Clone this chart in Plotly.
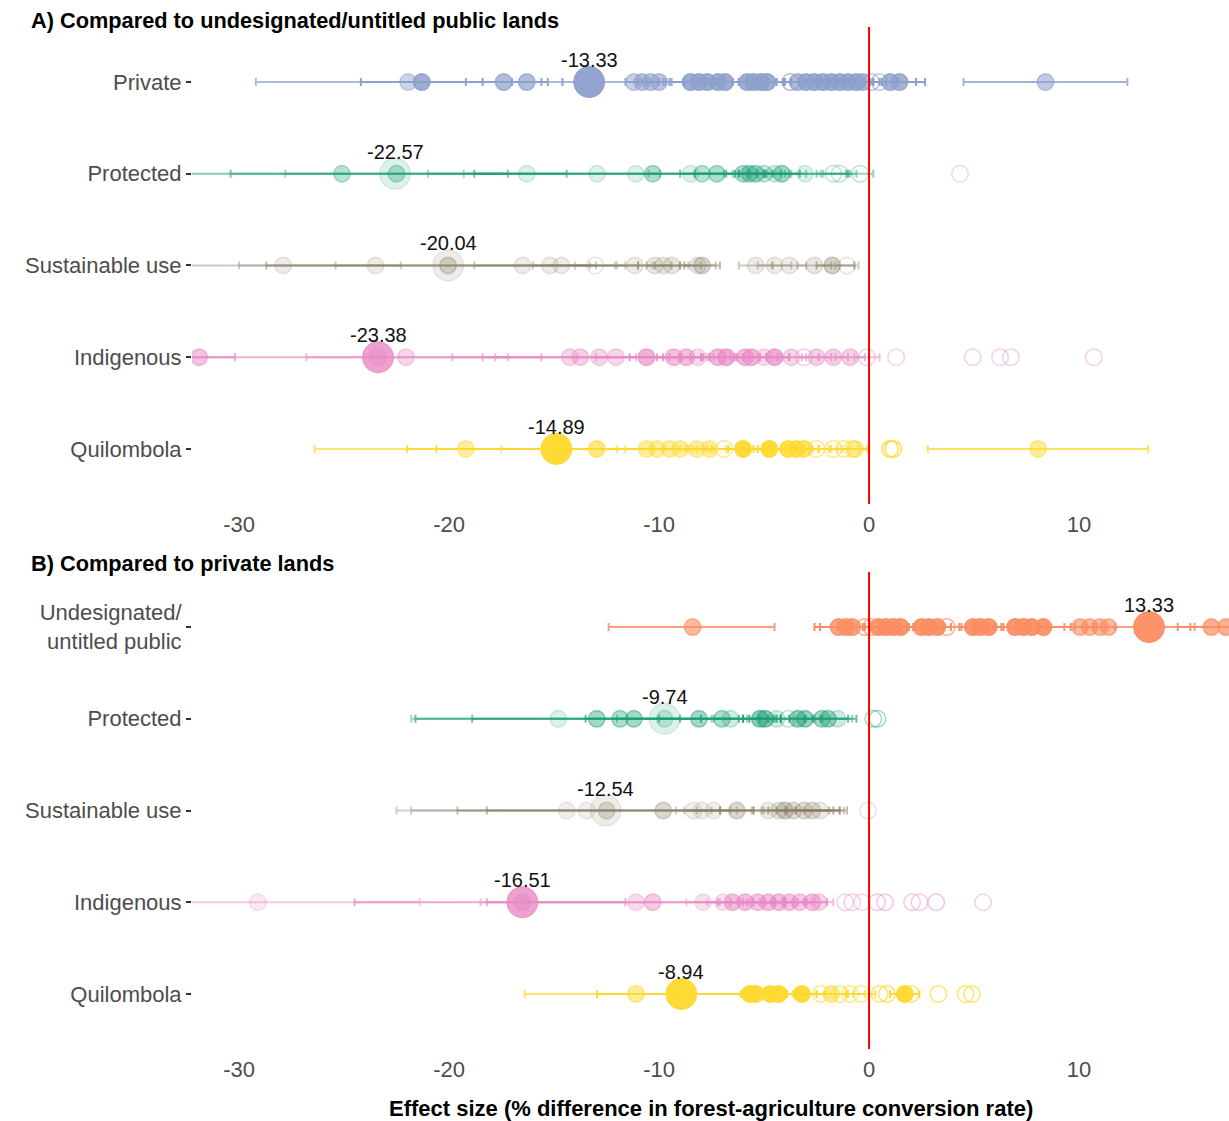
import plotly.graph_objects as go

# ---------------------------------------------------------------------------
# Study-level effect sizes: (estimate, ci_low, ci_high, weight, significant)
# weight drives the opacity of a study, significant=0 draws an open circle
# ---------------------------------------------------------------------------

# Panel A: compared to undesignated/untitled public lands
a_private = [
    (-21.95, -29.2, -14.6, 0.45, 1), (-21.3, -24.2, -18.4, 0.85, 1),
    (-17.4, -19.2, -15.6, 0.7, 1), (-16.3, -17.0, -15.3, 0.7, 1),
    (-11.2, -14.6, -9.7, 0.5, 1), (-10.8, -11.6, -10.0, 0.6, 1),
    (-10.4, -11.0, -9.8, 0.6, 1), (-10.0, -10.6, -9.4, 0.6, 1),
    (-8.5, -9.5, -7.6, 0.85, 1), (-8.1, -8.8, -7.3, 0.85, 1),
    (-7.7, -8.4, -7.0, 0.85, 1), (-7.2, -7.9, -6.5, 0.85, 1),
    (-6.85, -7.5, -6.2, 0.85, 1), (-5.8, -6.5, -5.1, 0.85, 1),
    (-5.5, -6.2, -4.8, 0.85, 1), (-5.15, -5.8, -4.4, 0.85, 1),
    (-4.85, -5.4, -4.0, 0.85, 1), (-3.75, -4.5, -2.9, 0.6, 0),
    (-3.4, -4.1, -2.7, 0.7, 1), (-3.0, -3.7, -2.3, 0.85, 1),
    (-2.6, -3.3, -1.9, 0.85, 1), (-2.2, -2.9, -1.5, 0.85, 1),
    (-1.8, -2.5, -1.1, 0.85, 1), (-1.4, -2.0, -0.6, 0.85, 1),
    (-1.0, -1.6, -0.2, 0.85, 1), (-0.6, -1.2, 0.2, 0.85, 1),
    (-0.3, -0.9, 0.5, 0.7, 1), (0.1, -0.6, 0.8, 0.5, 0),
    (0.5, -0.2, 1.4, 0.5, 0), (1.0, 0.2, 2.24, 0.8, 1),
    (1.45, 0.6, 2.67, 0.8, 1), (8.4, 4.5, 12.3, 0.55, 1),
]
a_protected = [
    (-25.1, -33.0, -17.2, 0.3, 1), (-22.5, -30.4, -14.4, 0.3, 1),
    (-16.3, -27.8, -9.95, 0.15, 1), (-12.95, -21.0, -4.0, 0.15, 1),
    (-11.1, -19.3, -3.0, 0.15, 1), (-10.3, -18.8, -1.0, 0.35, 1),
    (-8.5, -10.5, -6.5, 0.15, 1), (-7.95, -9.0, -6.9, 0.3, 1),
    (-7.25, -8.3, -6.2, 0.35, 1), (-6.0, -6.8, -5.0, 0.35, 1),
    (-5.7, -6.4, -4.9, 0.4, 1), (-5.4, -6.2, -4.6, 0.4, 1),
    (-5.0, -5.8, -4.2, 0.25, 1), (-4.5, -5.3, -3.7, 0.2, 1),
    (-4.15, -5.0, -3.3, 0.4, 1), (-3.05, -3.8, -2.3, 0.15, 1),
    (-1.7, -2.5, -0.9, 0.2, 0), (-1.4, -2.2, -0.6, 0.2, 0),
    (-0.43, -1.1, 0.2, 0.2, 0), (4.33, 4.33, 4.33, 0.12, 0),
]
a_sustainable = [
    (-27.9, -33.5, -22.3, 0.15, 1), (-23.5, -30.0, -13.0, 0.15, 1),
    (-20.05, -28.7, -11.0, 0.3, 1), (-16.5, -25.4, -8.0, 0.15, 1),
    (-15.2, -18.8, -11.6, 0.15, 1), (-14.65, -16.0, -13.3, 0.15, 1),
    (-13.05, -14.0, -12.1, 0.12, 0), (-11.15, -12.0, -10.3, 0.15, 1),
    (-10.2, -11.0, -9.4, 0.18, 1), (-9.8, -10.6, -9.0, 0.18, 1),
    (-9.4, -10.2, -8.6, 0.18, 1), (-8.15, -9.0, -7.3, 0.18, 1),
    (-7.95, -8.8, -7.1, 0.3, 1), (-5.4, -6.2, -4.6, 0.15, 1),
    (-4.5, -5.3, -3.7, 0.15, 1), (-3.8, -4.6, -3.0, 0.15, 1),
    (-2.6, -3.4, -1.8, 0.18, 1), (-1.75, -2.5, -0.7, 0.35, 1),
    (-1.05, -1.6, -0.5, 0.12, 0),
]
a_indigenous = [
    (-31.9, -33.5, -30.2, 0.5, 1), (-23.4, -33.0, -15.6, 0.4, 1),
    (-22.05, -26.8, -17.2, 0.35, 1), (-14.25, -19.85, -8.0, 0.35, 1),
    (-13.75, -18.4, -9.0, 0.4, 1), (-12.85, -17.8, -7.7, 0.35, 1),
    (-12.05, -13.0, -11.1, 0.35, 1), (-10.6, -11.4, -9.8, 0.65, 1),
    (-9.3, -10.1, -8.5, 0.55, 1), (-8.7, -9.5, -7.9, 0.55, 1),
    (-8.15, -8.9, -7.4, 0.3, 1), (-7.2, -8.0, -6.4, 0.6, 1),
    (-6.8, -7.6, -6.0, 0.7, 1), (-5.9, -6.6, -5.2, 0.6, 1),
    (-5.6, -6.3, -4.9, 0.6, 1), (-5.0, -5.7, -4.3, 0.3, 1),
    (-4.5, -5.2, -3.8, 0.7, 1), (-3.7, -4.4, -3.0, 0.35, 1),
    (-3.1, -3.8, -2.4, 0.35, 0), (-2.5, -3.2, -1.8, 0.4, 1),
    (-1.7, -2.4, -1.0, 0.4, 1), (-0.9, -1.6, -0.2, 0.4, 1),
    (-0.1, -0.7, 0.5, 0.3, 0), (1.29, 1.29, 1.29, 0.3, 0),
    (4.94, 4.94, 4.94, 0.3, 0), (6.24, 6.24, 6.24, 0.3, 0),
    (6.75, 6.75, 6.75, 0.3, 0), (10.7, 10.7, 10.7, 0.3, 0),
]
a_quilombola = [
    (-19.2, -26.4, -12.0, 0.45, 1), (-14.87, -22.0, -7.5, 0.6, 1),
    (-12.97, -20.6, -5.0, 0.6, 1), (-10.6, -17.5, -3.5, 0.45, 1),
    (-10.1, -11.6, -8.6, 0.45, 1), (-9.5, -10.3, -8.7, 0.45, 1),
    (-9.0, -9.8, -8.2, 0.45, 1), (-8.2, -9.0, -7.4, 0.45, 1),
    (-7.6, -8.4, -6.8, 0.45, 1), (-6.9, -7.7, -6.1, 0.5, 0),
    (-6.0, -6.7, -5.3, 0.95, 1), (-4.75, -5.5, -4.0, 0.95, 1),
    (-3.85, -4.6, -3.1, 0.8, 1), (-3.45, -4.2, -2.7, 0.8, 1),
    (-3.1, -3.8, -2.4, 0.7, 1), (-2.5, -3.2, -1.8, 0.5, 0),
    (-1.7, -2.4, -1.0, 0.5, 0), (-1.2, -1.9, -0.5, 0.5, 0),
    (-0.8, -1.5, -0.1, 0.5, 0), (-0.67, -1.3, 0.0, 0.5, 1),
    (1.0, 1.0, 1.0, 0.8, 0), (1.15, 1.15, 1.15, 0.8, 0),
    (8.05, 2.8, 13.3, 0.5, 1),
]

# Panel B: compared to private lands
b_undesignated = [
    (-8.4, -12.4, -4.5, 0.6, 1), (-1.45, -2.6, -0.3, 0.8, 1),
    (-1.1, -2.33, 0.1, 0.8, 1), (-0.8, -1.5, 0.0, 0.8, 1),
    (-0.2, -0.9, 0.5, 0.6, 0), (0.1, -0.6, 0.8, 0.6, 0),
    (0.45, -0.2, 1.2, 0.9, 1), (0.8, 0.1, 1.5, 0.9, 1),
    (1.15, 0.5, 1.9, 0.9, 1), (1.5, 0.8, 2.2, 0.9, 1),
    (2.5, 1.8, 3.2, 0.9, 1), (2.85, 2.1, 3.5, 0.9, 1),
    (3.25, 2.5, 3.9, 0.9, 1), (3.7, 3.0, 4.4, 0.6, 0),
    (4.95, 4.3, 5.7, 0.9, 1), (5.3, 4.6, 6.0, 0.9, 1),
    (5.7, 5.0, 6.4, 0.9, 1), (6.95, 6.3, 7.7, 0.9, 1),
    (7.35, 6.7, 8.1, 0.9, 1), (7.75, 7.0, 8.5, 0.9, 1),
    (8.3, 7.5, 9.6, 0.9, 1), (10.05, 9.3, 10.8, 0.6, 1),
    (10.5, 9.8, 11.2, 0.6, 1), (11.0, 10.3, 11.7, 0.6, 1),
    (11.4, 10.7, 15.5, 0.6, 1), (16.3, 14.7, 18.0, 0.7, 1),
    (17.0, 15.3, 18.5, 0.7, 1),
]
b_protected = [
    (-14.8, -21.8, -8.0, 0.15, 1), (-12.97, -21.6, -4.5, 0.4, 1),
    (-11.86, -18.9, -4.8, 0.35, 1), (-11.2, -13.5, -9.0, 0.4, 1),
    (-9.74, -12.0, -7.5, 0.2, 1), (-8.1, -10.0, -6.2, 0.4, 1),
    (-7.0, -8.0, -6.0, 0.35, 1), (-6.6, -7.4, -5.8, 0.2, 1),
    (-5.2, -6.0, -4.4, 0.5, 1), (-4.95, -5.7, -4.2, 0.5, 1),
    (-4.4, -5.2, -3.6, 0.2, 1), (-3.85, -4.6, -3.1, 0.2, 0),
    (-3.4, -4.2, -2.6, 0.45, 1), (-3.05, -3.8, -2.3, 0.45, 1),
    (-2.25, -3.0, -1.0, 0.4, 1), (-1.95, -2.7, -0.6, 0.4, 1),
    (-1.5, -2.2, -0.8, 0.2, 1), (0.2, 0.2, 0.2, 0.3, 0),
    (0.4, 0.4, 0.4, 0.3, 0),
]
b_sustainable = [
    (-14.4, -22.5, -6.3, 0.12, 1), (-13.45, -21.8, -5.0, 0.12, 1),
    (-12.5, -19.6, -5.5, 0.25, 1), (-9.8, -18.2, -1.4, 0.3, 1),
    (-8.36, -9.2, -7.5, 0.12, 1), (-7.97, -8.8, -7.1, 0.12, 1),
    (-7.4, -8.2, -6.6, 0.12, 1), (-6.3, -7.1, -5.5, 0.3, 1),
    (-4.8, -5.6, -4.0, 0.15, 1), (-4.3, -5.1, -3.5, 0.2, 1),
    (-4.0, -4.8, -1.7, 0.35, 1), (-3.6, -4.4, -1.05, 0.25, 1),
    (-3.1, -3.9, -1.4, 0.25, 1), (-2.7, -3.5, -1.9, 0.25, 1),
    (-2.33, -3.1, -1.2, 0.15, 1), (-0.05, -0.05, -0.05, 0.1, 0),
]
b_indigenous = [
    (-29.1, -33.5, -21.4, 0.2, 1), (-16.51, -24.5, -11.6, 0.5, 1),
    (-11.1, -18.5, -4.0, 0.3, 1), (-10.3, -18.2, -3.0, 0.45, 1),
    (-7.9, -8.7, -7.1, 0.25, 1), (-6.95, -7.7, -6.2, 0.25, 1),
    (-6.5, -7.2, -5.8, 0.55, 1), (-5.9, -6.6, -5.2, 0.55, 1),
    (-5.3, -6.0, -4.6, 0.5, 1), (-4.8, -5.5, -4.1, 0.55, 1),
    (-4.3, -5.0, -3.6, 0.55, 1), (-3.8, -4.5, -3.1, 0.5, 1),
    (-3.3, -4.0, -2.6, 0.45, 1), (-2.7, -3.4, -2.0, 0.5, 1),
    (-2.4, -3.1, -1.7, 0.35, 1), (-1.14, -1.14, -1.14, 0.3, 0),
    (-0.8, -0.8, -0.8, 0.3, 0), (-0.33, -0.33, -0.33, 0.3, 0),
    (0.38, 0.38, 0.38, 0.4, 0), (0.76, 0.76, 0.76, 0.4, 0),
    (2.05, 2.05, 2.05, 0.35, 0), (2.4, 2.4, 2.4, 0.35, 0),
    (3.2, 3.2, 3.2, 0.4, 0), (5.43, 5.43, 5.43, 0.3, 0),
]
b_quilombola = [
    (-11.1, -16.4, -6.0, 0.5, 1), (-5.67, -12.95, -1.0, 0.95, 1),
    (-5.4, -6.1, -4.7, 0.95, 1), (-4.7, -5.4, -4.0, 0.95, 1),
    (-4.3, -5.0, -3.6, 0.95, 1), (-3.2, -3.9, -2.5, 0.95, 1),
    (-2.3, -3.0, -1.6, 0.5, 0), (-1.8, -2.5, -1.1, 0.5, 1),
    (-1.4, -2.1, -0.7, 0.5, 0), (-0.9, -1.6, -0.2, 0.5, 0),
    (-0.4, -1.1, 0.3, 0.5, 0), (0.5, 0.5, 0.5, 0.6, 0),
    (0.85, 0.85, 0.85, 0.6, 0), (1.7, 1.0, 2.4, 0.95, 1),
    (2.0, 2.0, 2.0, 0.6, 0), (3.3, 3.3, 3.3, 0.6, 0),
    (4.6, 4.6, 4.6, 0.6, 0), (4.9, 4.9, 4.9, 0.6, 0),
]

# Pooled (summary) effect per land category, with its display strength
labels_a = ["Private", "Protected", "Sustainable use", "Indigenous", "Quilombola"]
labels_b = ["Undesignated/<br>untitled public", "Protected", "Sustainable use",
            "Indigenous", "Quilombola"]
summary_a = [-13.33, -22.57, -20.04, -23.38, -14.89]
summary_b = [13.33, -9.74, -12.54, -16.51, -8.94]
summary_a_strength = [0.95, 0.15, 0.15, 0.8, 0.95]
summary_b_strength = [0.95, 0.15, 0.15, 0.8, 0.95]

colors_a = ["#8da0cb", "#1b9e77", "#8a7d66", "#e78ac3", "#ffd92f"]
colors_b = ["#fc8d62", "#1b9e77", "#8a7d66", "#e78ac3", "#ffd92f"]

x_ticks = [-30, -20, -10, 0, 10]
x_tick_text = ["-30", "-20", "-10", "0", "10"]

FONT = "Liberation Sans, Arial, Helvetica, sans-serif"


def rgba(hex_color, a):
    h = hex_color.lstrip("#")
    r, g, b = int(h[0:2], 16), int(h[2:4], 16), int(h[4:6], 16)
    return f"rgba({r},{g},{b},{a})"


fig = go.Figure()

panels = [
    ("x", "y", [a_private, a_protected, a_sustainable, a_indigenous, a_quilombola],
     colors_a, summary_a, summary_a_strength),
    ("x2", "y2", [b_undesignated, b_protected, b_sustainable, b_indigenous, b_quilombola],
     colors_b, summary_b, summary_b_strength),
]

# Confidence intervals first, one per study so that their alpha stacks
for xa, ya, rows, cols, _, _ in panels:
    for i, (studies, col) in enumerate(zip(rows, cols)):
        yv = 4 - i
        for est, lo, hi, w, sig in studies:
            if hi - lo <= 0:
                continue
            fig.add_trace(go.Scatter(
                x=[est], y=[yv], mode="markers", xaxis=xa, yaxis=ya,
                marker=dict(size=1, color="rgba(0,0,0,0)"),
                error_x=dict(type="data", symmetric=False,
                             array=[hi - est], arrayminus=[est - lo],
                             color=rgba(col, min(1.0, w + 0.25)),
                             thickness=2, width=4),
                hoverinfo="skip", showlegend=False))

# Study points
for xa, ya, rows, cols, _, _ in panels:
    for i, (studies, col) in enumerate(zip(rows, cols)):
        yv = 4 - i
        xs = [s[0] for s in studies]
        fill = [rgba(col, s[3]) if s[4] else "rgba(0,0,0,0)" for s in studies]
        edge = [rgba(col, min(1.0, s[3] + 0.05)) if s[4]
                else rgba(col, min(1.0, s[3] + 0.1)) for s in studies]
        fig.add_trace(go.Scatter(
            x=xs, y=[yv] * len(xs), mode="markers", xaxis=xa, yaxis=ya,
            marker=dict(size=16.5, color=fill, symbol="circle",
                        line=dict(color=edge, width=1.5)),
            hoverinfo="x", showlegend=False))

# Pooled estimates, drawn large with their value above
for xa, ya, rows, cols, summ, strength in panels:
    for i, (val, col, st) in enumerate(zip(summ, cols, strength)):
        yv = 4 - i
        fig.add_trace(go.Scatter(
            x=[val], y=[yv], mode="markers", xaxis=xa, yaxis=ya,
            marker=dict(size=31, color=rgba(col, st),
                        line=dict(color=rgba(col, min(1.0, st + 0.05)), width=1)),
            hoverinfo="x", showlegend=False))
        fig.add_annotation(x=val, y=yv, xref=xa, yref=ya, text=f"{val:.2f}",
                           showarrow=False, yshift=22,
                           font=dict(family=FONT, size=20, color="#111111"))

# Zero reference line in each panel
for xa, ya in [("x", "y"), ("x2", "y2")]:
    fig.add_shape(type="line", x0=0, x1=0, y0=0, y1=1, xref=xa,
                  yref=f"{ya} domain", layer="above",
                  line=dict(color="#ff0000", width=2))

axis_x = dict(range=[-32.24, 17.14], tickvals=x_ticks, ticktext=x_tick_text,
              showgrid=False, zeroline=False, showline=False, ticks="",
              ticklabelstandoff=5,
              tickfont=dict(family=FONT, size=22, color="#4d4d4d"))
axis_y = dict(range=[-0.6, 4.6], tickvals=[4, 3, 2, 1, 0], showgrid=False,
              zeroline=False, showline=False, ticks="outside", ticklen=5,
              tickwidth=1.5, tickcolor="#333333",
              tickfont=dict(family=FONT, size=22, color="#4d4d4d"))

fig.update_layout(
    width=1229, height=1121,
    margin=dict(l=192, r=0, t=27, b=72),
    paper_bgcolor="white", plot_bgcolor="white",
    xaxis=dict(axis_x, domain=[0, 1], anchor="y"),
    yaxis=dict(axis_y, domain=[0.5333, 1.0], anchor="x", ticktext=labels_a),
    xaxis2=dict(axis_x, domain=[0, 1], anchor="y2"),
    yaxis2=dict(axis_y, domain=[0.0, 0.4667], anchor="x2", ticktext=labels_b),
    font=dict(family=FONT),
)

fig.add_annotation(text="<b>A) Compared to undesignated/untitled public lands</b>",
                   xref="paper", yref="paper", x=-0.1572, y=1.0068,
                   xanchor="left", yanchor="middle", showarrow=False,
                   font=dict(family=FONT, size=21.75, color="#000000"))
fig.add_annotation(text="<b>B) Compared to private lands</b>",
                   xref="paper", yref="paper", x=-0.1572, y=0.4746,
                   xanchor="left", yanchor="middle", showarrow=False,
                   font=dict(family=FONT, size=21.75, color="#000000"))
fig.add_annotation(text="<b>Effect size (% difference in forest-agriculture conversion rate)</b>",
                   xref="paper", yref="paper", x=0.5, y=-0.0587,
                   xanchor="center", yanchor="middle", showarrow=False,
                   font=dict(family=FONT, size=22, color="#000000"))

fig.write_html("out.html")
